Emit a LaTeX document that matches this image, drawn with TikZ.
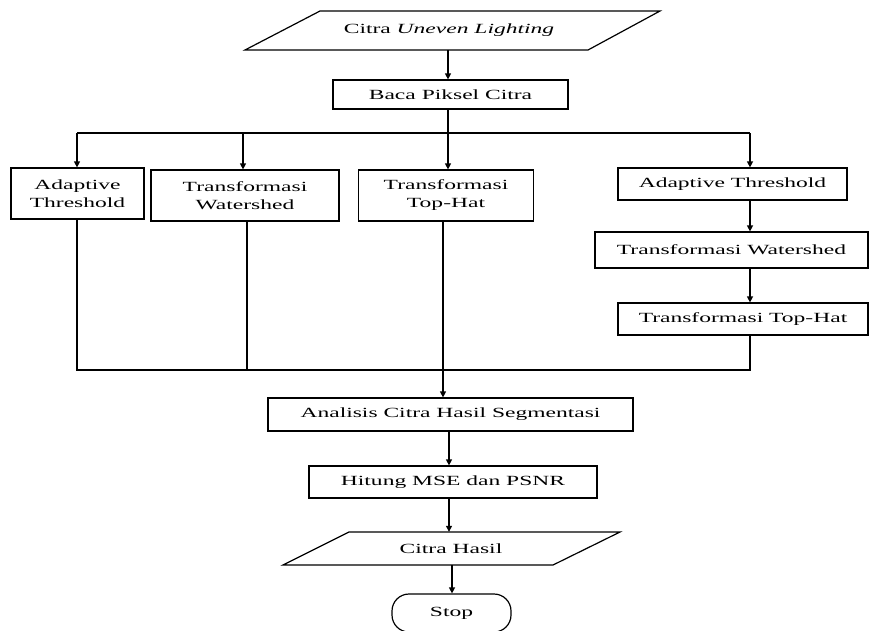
\documentclass[tikz,border=0pt]{standalone}
\usepackage{fontspec}
\setmainfont[FakeStretch=1.68]{Liberation Serif}
\usetikzlibrary{arrows.meta}
\begin{document}
\begin{tikzpicture}[x=1pt,y=-1pt,
  box/.style={draw, line width=1.2pt, rectangle, inner sep=0pt, align=center, font=\fontsize{14}{18}\selectfont},
  txt/.style={inner sep=0pt, align=center, font=\fontsize{14}{18}\selectfont},
  ln/.style={line width=1.2pt},
  arr/.style={line width=1.2pt, -{Triangle[length=6pt,width=6pt]}}]
\useasboundingbox (0,0) rectangle (870,630);
\fill[white] (0,0) rectangle (870,630);

% input parallelogram
\draw[line width=1.2pt] (245,50) -- (320,11) -- (660,11) -- (588,50) -- cycle;
\node[txt, minimum height=39pt] (in1) at (449,30.5) {Citra \textit{Uneven Lighting}};

\node[box, minimum width=235pt, minimum height=29pt] (baca) at (450.5,94.5) {Baca Piksel Citra};

\node[box, minimum width=133pt, minimum height=51pt] (a1) at (77.5,193.5) {Adaptive\\Threshold};
\node[box, minimum width=188pt, minimum height=51pt] (a2) at (245,195.5) {Transformasi\\Watershed};
\node[box, minimum width=175pt, minimum height=51pt] (a3) at (446,195.5) {Transformasi\\Top-Hat};
\node[box, minimum width=229pt, minimum height=32pt] (a4) at (732.5,184) {Adaptive Threshold};
\node[box, minimum width=273pt, minimum height=36pt] (a5) at (731.5,250) {Transformasi Watershed};
\node[box, minimum width=250pt, minimum height=32pt] (a6) at (743,319) {Transformasi Top-Hat};

\node[box, minimum width=365pt, minimum height=33pt] (an) at (450.5,414.5) {Analisis Citra Hasil Segmentasi};
\node[box, minimum width=288pt, minimum height=32pt] (hi) at (453,482) {Hitung MSE dan PSNR};

\draw[line width=1.2pt] (283,565) -- (349,532) -- (620,532) -- (553,565) -- cycle;
\node[txt, minimum height=33pt] (out) at (451,548.5) {Citra Hasil};

\node[box, rounded corners=17pt, minimum width=119pt, minimum height=38pt] (stop) at (451.5,613) {Stop};

% junction coordinates
\coordinate (sp) at (448,0);
\coordinate (jt) at (448,133);
\coordinate (tl) at (77,133);
\coordinate (t2) at (243,133);
\coordinate (tr) at (750,133);
\coordinate (bl) at (77,370);
\coordinate (b2) at (247,370);
\coordinate (bm) at (443,370);
\coordinate (br) at (750,370);
\coordinate (s2) at (449,0);
\coordinate (s3) at (452,0);

\draw[arr] (in1.south -| sp) -- (baca.north -| sp);
\draw[arr] (baca.south -| sp) -- (a3.north -| sp);
\draw[ln] (tl) -- (tr);
\draw[arr] (tl) -- (tl |- a1.north);
\draw[arr] (t2) -- (t2 |- a2.north);
\draw[arr] (tr) -- (tr |- a4.north);
\draw[arr] (a4.south -| tr) -- (a5.north -| tr);
\draw[arr] (a5.south -| tr) -- (a6.north -| tr);

\draw[ln] (a1.south -| bl) -- (bl) -- (br) -- (a6.south -| br);
\draw[ln] (a2.south -| b2) -- (b2);
\draw[ln] (a3.south -| bm) -- (bm);
\draw[arr] (bm) -- (an.north -| bm);
\draw[arr] (an.south -| s2) -- (hi.north -| s2);
\draw[arr] (hi.south -| s2) -- (out.north -| s2);
\draw[arr] (out.south -| s3) -- (stop.north -| s3);
\end{tikzpicture}
\end{document}
